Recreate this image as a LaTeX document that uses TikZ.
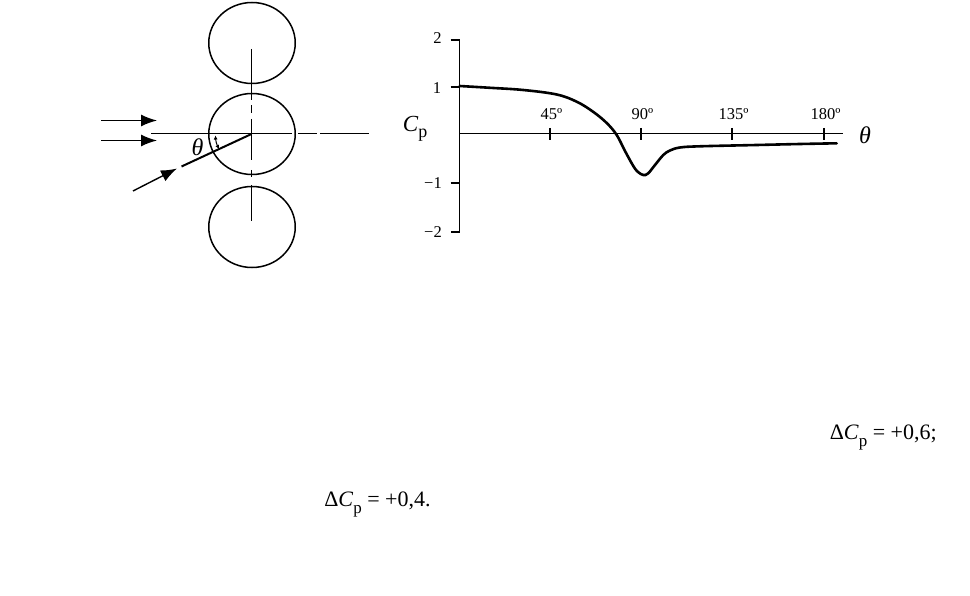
\documentclass[tikz,border=0pt]{standalone}
\usepackage{fontspec}
\setmainfont{Liberation Serif}
\usetikzlibrary{shapes.geometric, positioning, arrows.meta}

\begin{document}
\begin{tikzpicture}[x=1pt, y=-1pt,
line width=1.5pt,
cylinder/.style={draw, ellipse, inner sep=0pt, minimum width=86.5pt, minimum height=81pt},
centre/.style={line width=1.2pt},
flow/.style={-{Latex[length=16pt, width=12pt]}, line width=1.4pt},
axislabel/.style={font=\fontsize{16.5}{18}\selectfont, inner sep=0pt},
symlabel/.style={font=\fontsize{23}{26}\selectfont, inner sep=0pt},
result/.style={font=\fontsize{22}{24}\selectfont, inner sep=0pt, anchor=west}]

\useasboundingbox (0,0) rectangle (970,596);

% cylinders
\node[cylinder] (top) at (252,43) {};
\node[cylinder] (mid) at (252,134) {};
\node[cylinder] (bot) at (252,227) {};

\coordinate (o) at (251.5,134);

% centre lines
\coordinate (v0) at (251.5,49);
\coordinate (v1) at (251.5,100);
\coordinate (v2) at (251.5,105.5);
\coordinate (v3) at (251.5,113);
\coordinate (v4) at (251.5,119);
\coordinate (v5) at (251.5,160);
\coordinate (v6) at (251.5,170);
\coordinate (v7) at (251.5,177);
\coordinate (v8) at (251.5,185);
\coordinate (v9) at (251.5,221);
\draw[centre] (v0) -- (v1) (v2) -- (v3) (v4) -- (v5) (v6) -- (v7) (v8) -- (v9);

\coordinate (h0) at (151,133.7);
\coordinate (h1) at (292,133.7);
\coordinate (h2) at (298,133.7);
\coordinate (h3) at (317,133.7);
\coordinate (h4) at (320,133.7);
\coordinate (h5) at (369,133.7);
\draw[line width=1pt] (h0) -- (h1) (h2) -- (h3) (h4) -- (h5);

% flow
\coordinate (f1) at (101,120.5);
\coordinate (f1e) at (157,120.5);
\coordinate (f2) at (101,140.5);
\coordinate (f2e) at (157,140.5);
\coordinate (f3) at (133,191);
\coordinate (f3e) at (177,168.5);
\draw[flow] (f1) -- (f1e);
\draw[flow] (f2) -- (f2e);
\draw[flow] (f3) -- (f3e);

\coordinate (r0) at (181.5,166.5);
\draw[line width=2pt] (r0) -- (o);

% angle
\coordinate (a0) at (215.5,135.5);
\coordinate (a1) at (219,149);
\draw[{Latex[length=4pt, width=4pt]}-{Latex[length=4pt, width=4pt]}, line width=1pt] (a0) to[bend right=12] (a1);
\node[symlabel, font=\fontsize{24}{26}\selectfont\itshape] (angle) at (197.5,147) {θ};

% chart
\coordinate (y2) at (450.5,40);
\coordinate (a2) at (459.7,40);
\coordinate (y1) at (450.5,87);
\coordinate (a1y) at (459.7,87);
\coordinate (ym1) at (450.5,183);
\coordinate (am1) at (459.7,183);
\coordinate (ym2) at (450.5,232);
\coordinate (am2) at (459.7,232);
\coordinate (x0) at (459.7,134);
\coordinate (x1) at (843,134);
\draw[line width=1.5pt] (y2) -- (a2) -- (am2) -- (ym2);
\draw[line width=1.5pt] (y1) -- (a1y);
\draw[line width=1.5pt] (ym1) -- (am1);
\draw[line width=1pt] (x0) -- (x1);

\foreach \tx/\tname in {550/45º, 641/90º, 732/135º, 824/180º}{
  \draw[line width=1.3pt] (\tx,128) -- (\tx,140);
  \node[axislabel] at (\tx+1.5,114.5) {\tname};
}

\node[axislabel] (l2) at (437.5,38.5) {2};
\node[axislabel] (l1) at (437,88) {1};
\node[axislabel, anchor=east] (lm1) at (442.5,183.5) {−1};
\node[axislabel, anchor=east] (lm2) at (442.5,232.5) {−2};

\draw[line width=2.6pt, line cap=round] plot[smooth, tension=0.6] coordinates {
(459.7,86) (490,87.8) (523.3,90) (556.7,94.5) (576.7,101.7) (593,111.7) (606.7,123) (616.7,135)
(625,151) (633.3,166) (638,172) (643.3,175) (648,173.5) (655,165) (663.3,155) (670,150.5) (680,147.5) (700,146.3) (756.7,145) (800,144) (836.7,143.3)};

\node[symlabel, anchor=west] (cp) at (402,129) {\textit{C}\raisebox{-0.28em}{\fontsize{18}{20}\selectfont p}};
\node[symlabel, font=\fontsize{24}{26}\selectfont\itshape] (theta) at (865,135) {θ};

% results
\node[result] (r1) at (829,437.5) {Δ\textit{C}\raisebox{-0.28em}{\fontsize{17}{19}\selectfont p} = +0,6;};
\node[result] (r2) at (323.5,504.5) {Δ\textit{C}\raisebox{-0.28em}{\fontsize{17}{19}\selectfont p} = +0,4.};
\end{tikzpicture}
\end{document}
